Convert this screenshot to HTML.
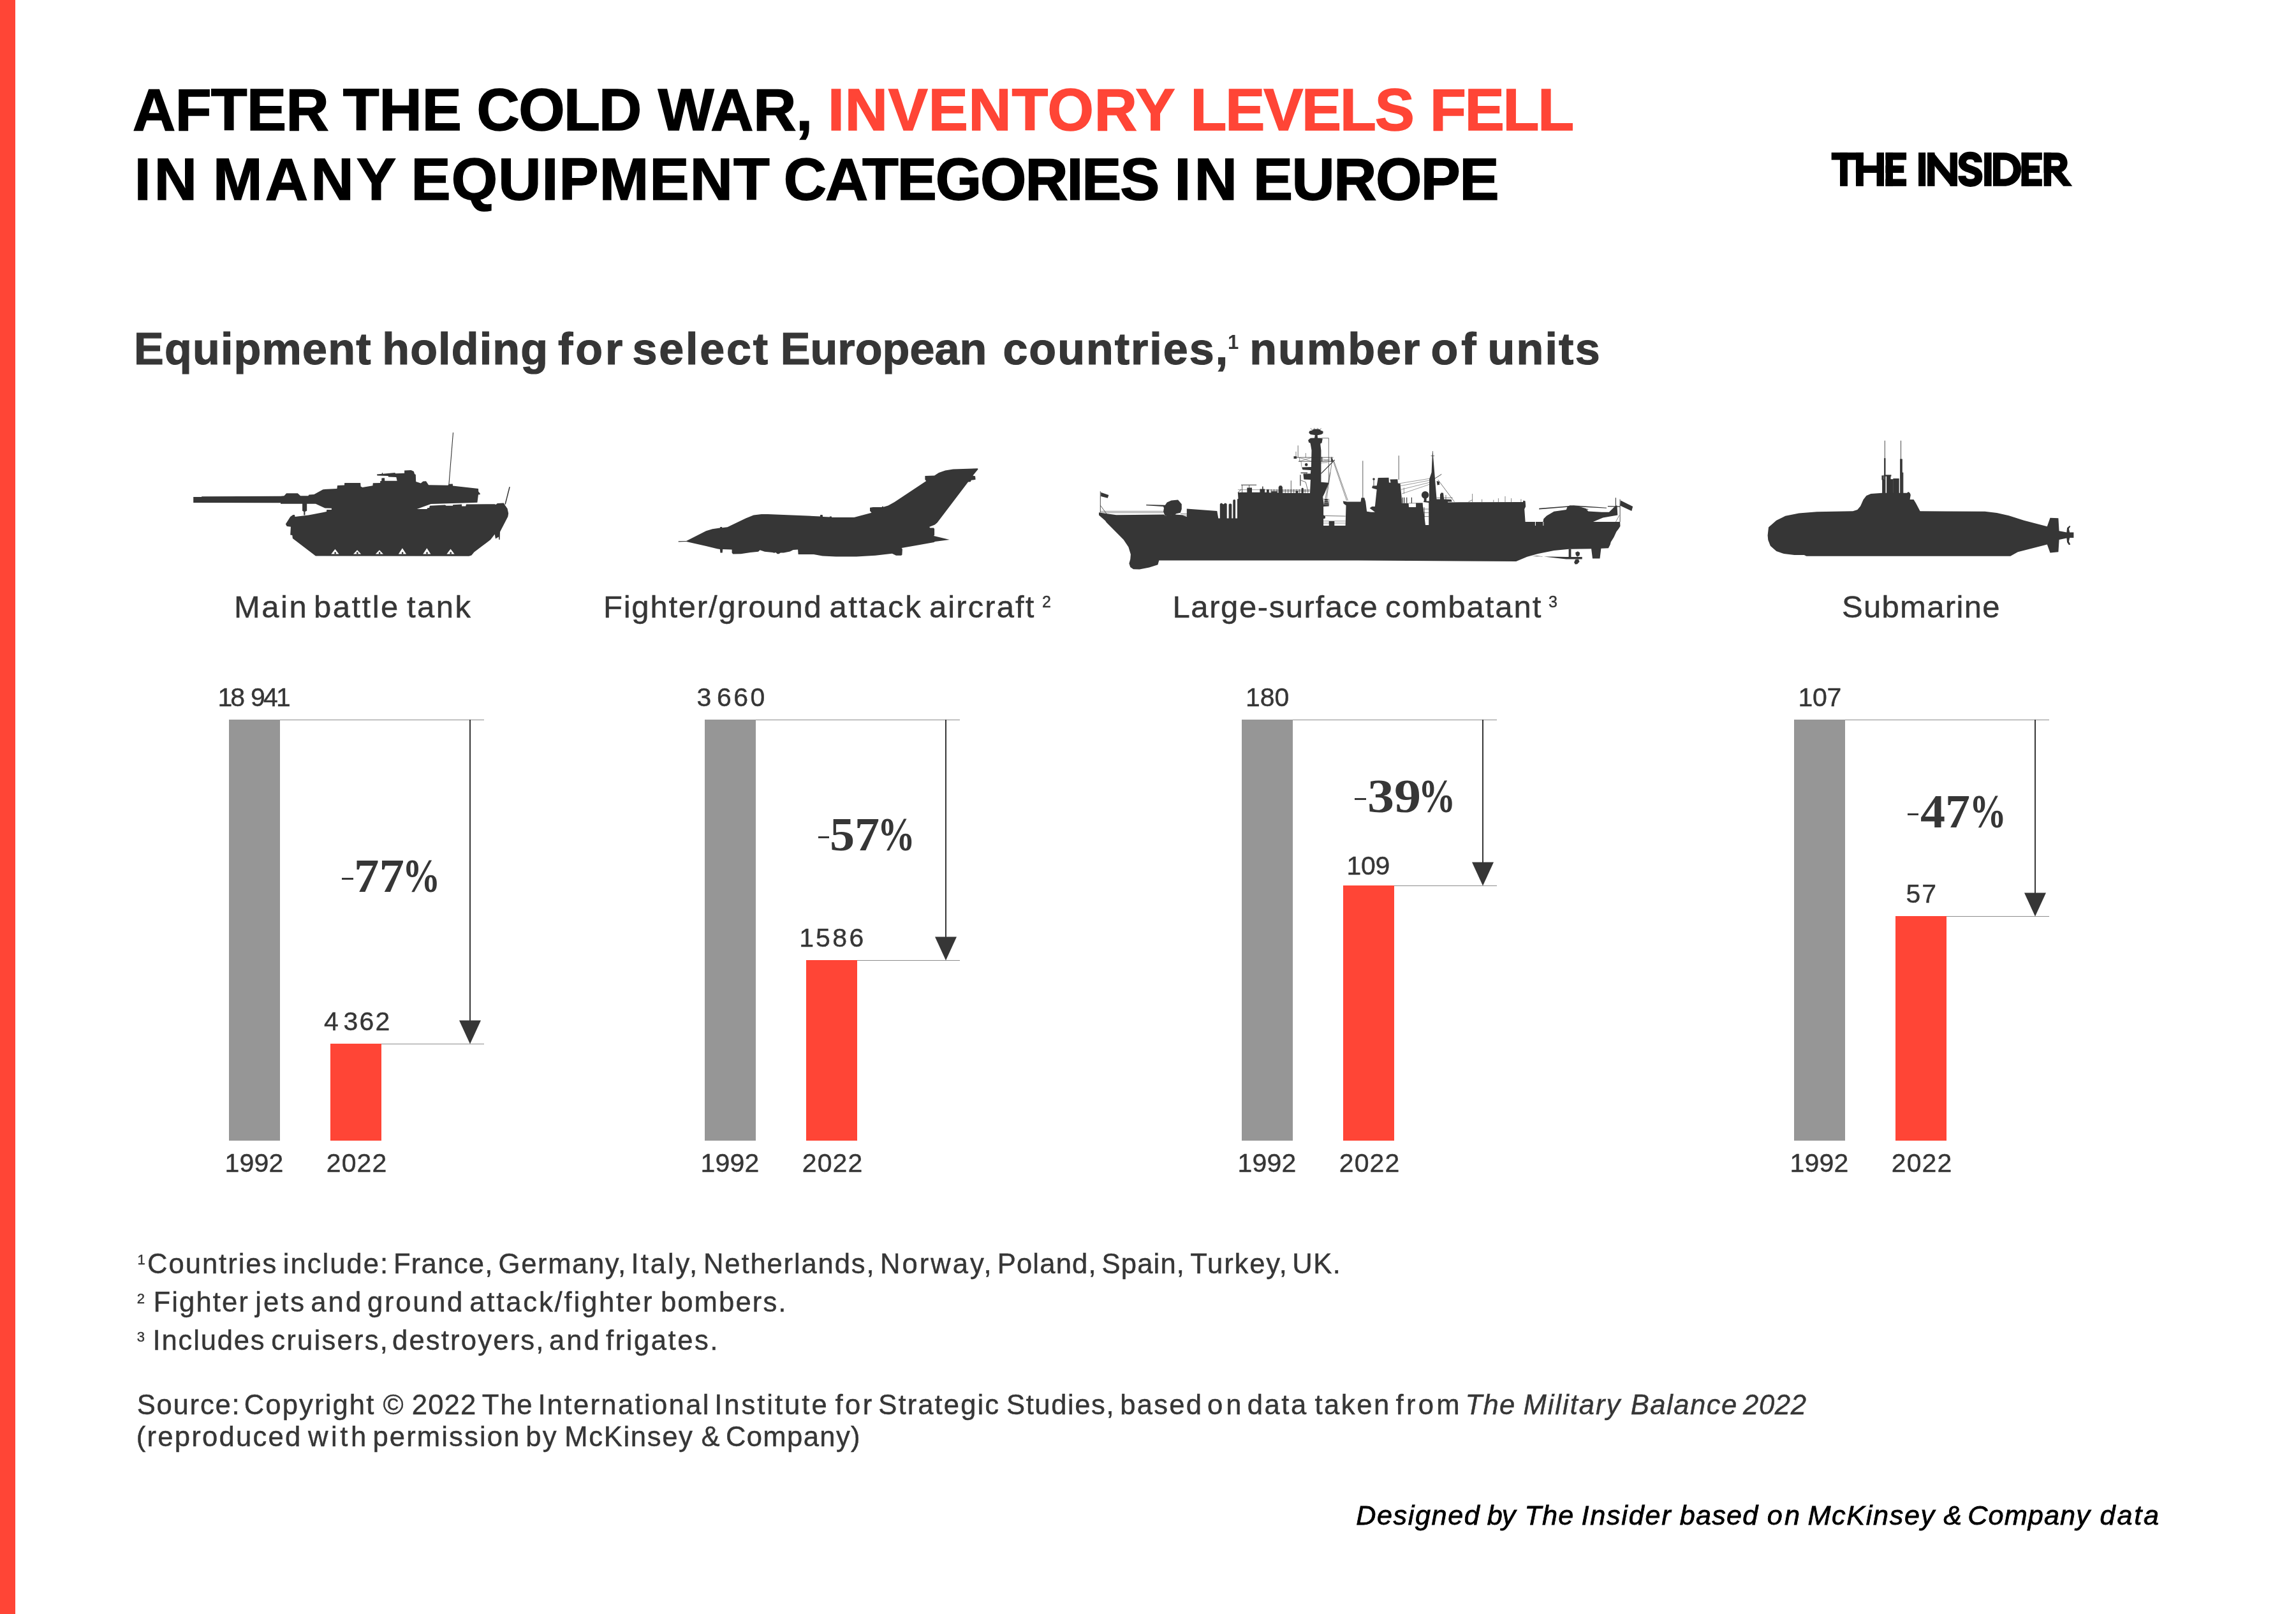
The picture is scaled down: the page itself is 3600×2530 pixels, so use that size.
<!DOCTYPE html>
<html><head><meta charset="utf-8"><title>After the Cold War, inventory levels fell</title>
<style>
html,body{margin:0;padding:0;background:#fff}
body{width:3600px;height:2530px;position:relative;overflow:hidden;font-family:"Liberation Sans",sans-serif}
#t{position:absolute;left:0;top:0;width:3600px;height:2530px;will-change:transform}
</style></head><body><div id="t">
<div style="position:absolute;left:0px;top:0px;width:24px;height:2530px;background:#ff4536"></div>
<div style="position:absolute;left:208.10px;top:126.28px;font-family:'Liberation Sans', sans-serif;font-size:93px;line-height:1;font-weight:bold;font-style:normal;color:#000;white-space:pre;letter-spacing:-0.625px;-webkit-text-stroke:1.5px #000;">AFTER</div>
<div style="position:absolute;left:537.70px;top:126.28px;font-family:'Liberation Sans', sans-serif;font-size:93px;line-height:1;font-weight:bold;font-style:normal;color:#000;white-space:pre;letter-spacing:0.1px;-webkit-text-stroke:1.5px #000;">THE</div>
<div style="position:absolute;left:747.60px;top:126.28px;font-family:'Liberation Sans', sans-serif;font-size:93px;line-height:1;font-weight:bold;font-style:normal;color:#000;white-space:pre;letter-spacing:-1.6px;-webkit-text-stroke:1.5px #000;">COLD</div>
<div style="position:absolute;left:1031.70px;top:126.28px;font-family:'Liberation Sans', sans-serif;font-size:93px;line-height:1;font-weight:bold;font-style:normal;color:#000;white-space:pre;letter-spacing:-0.133px;-webkit-text-stroke:1.5px #000;">WAR,</div>
<div style="position:absolute;left:1298.00px;top:126.28px;font-family:'Liberation Sans', sans-serif;font-size:93px;line-height:1;font-weight:bold;font-style:normal;color:#ff4536;white-space:pre;letter-spacing:0.875px;-webkit-text-stroke:1.5px #ff4536;">INVENTORY</div>
<div style="position:absolute;left:1866.50px;top:126.28px;font-family:'Liberation Sans', sans-serif;font-size:93px;line-height:1;font-weight:bold;font-style:normal;color:#ff4536;white-space:pre;letter-spacing:-2.1px;-webkit-text-stroke:1.5px #ff4536;">LEVELS</div>
<div style="position:absolute;left:2242.00px;top:126.28px;font-family:'Liberation Sans', sans-serif;font-size:93px;line-height:1;font-weight:bold;font-style:normal;color:#ff4536;white-space:pre;letter-spacing:-2.167px;-webkit-text-stroke:1.5px #ff4536;">FELL</div>
<div style="position:absolute;left:210.70px;top:235.28px;font-family:'Liberation Sans', sans-serif;font-size:93px;line-height:1;font-weight:bold;font-style:normal;color:#000;white-space:pre;letter-spacing:5.1px;-webkit-text-stroke:1.5px #000;">IN</div>
<div style="position:absolute;left:334.00px;top:235.28px;font-family:'Liberation Sans', sans-serif;font-size:93px;line-height:1;font-weight:bold;font-style:normal;color:#000;white-space:pre;letter-spacing:4.4px;-webkit-text-stroke:1.5px #000;">MANY</div>
<div style="position:absolute;left:644.50px;top:235.28px;font-family:'Liberation Sans', sans-serif;font-size:93px;line-height:1;font-weight:bold;font-style:normal;color:#000;white-space:pre;letter-spacing:1.188px;-webkit-text-stroke:1.5px #000;">EQUIPMENT</div>
<div style="position:absolute;left:1228.80px;top:235.28px;font-family:'Liberation Sans', sans-serif;font-size:93px;line-height:1;font-weight:bold;font-style:normal;color:#000;white-space:pre;letter-spacing:-2.056px;-webkit-text-stroke:1.5px #000;">CATEGORIES</div>
<div style="position:absolute;left:1841.40px;top:235.28px;font-family:'Liberation Sans', sans-serif;font-size:93px;line-height:1;font-weight:bold;font-style:normal;color:#000;white-space:pre;letter-spacing:5.4px;-webkit-text-stroke:1.5px #000;">IN</div>
<div style="position:absolute;left:1965.00px;top:235.28px;font-family:'Liberation Sans', sans-serif;font-size:93px;line-height:1;font-weight:bold;font-style:normal;color:#000;white-space:pre;letter-spacing:-1.46px;-webkit-text-stroke:1.5px #000;">EUROPE</div>
<svg style="position:absolute;left:2840px;top:210px" width="440" height="110" viewBox="0 0 2296 574">
<g fill="#000">
<rect x="165" y="152" width="262" height="60"/><rect x="235" y="152" width="62" height="275"/>
<rect x="365" y="152" width="62" height="275"/><rect x="535" y="152" width="60" height="275"/><rect x="365" y="258" width="230" height="60"/>
<rect x="608" y="152" width="60" height="275"/><rect x="608" y="152" width="170" height="60"/><rect x="608" y="258" width="150" height="60"/><rect x="608" y="368" width="170" height="59"/>
<rect x="877" y="152" width="58" height="275"/>
<rect x="950" y="152" width="60" height="275"/><rect x="1135" y="152" width="60" height="275"/>
<path d="M950 152 L1000 152 L1195 397 L1195 427 L1142 427 L950 187 Z"/>
<rect x="1415" y="152" width="60" height="275"/>
<path fill-rule="evenodd" d="M1487 152 L1575 152 C1660 152 1717 210 1717 290 C1717 370 1660 427 1575 427 L1487 427 Z M1547 212 L1547 368 L1575 368 C1625 368 1653 335 1653 290 C1653 245 1625 212 1575 212 Z"/>
<rect x="1720" y="152" width="60" height="275"/><rect x="1720" y="152" width="168" height="60"/><rect x="1720" y="258" width="148" height="60"/><rect x="1720" y="368" width="168" height="59"/>
<rect x="1903" y="152" width="60" height="275"/>
<path fill-rule="evenodd" d="M1903 152 L2010 152 C2062 152 2096 188 2096 236 C2096 284 2062 318 2010 318 L1903 318 Z M1963 212 L1963 262 L2008 262 C2026 262 2036 251 2036 237 C2036 223 2026 212 2008 212 Z"/>
<path d="M1968 312 L2040 300 L2136 427 L2062 427 Z"/>
</g>
<path d="M1366 232 C1366 194 1340 176 1300 176 C1262 176 1236 196 1236 232 C1236 268 1272 279 1300 288 C1340 300 1369 312 1369 348 C1369 385 1340 401 1302 401 C1262 401 1234 382 1233 342" fill="none" stroke="#000" stroke-width="63"/>
</svg>
<div style="position:absolute;left:210.00px;top:511.75px;font-family:'Liberation Sans', sans-serif;font-size:70px;line-height:1;font-weight:bold;font-style:normal;color:#363636;white-space:pre;letter-spacing:1.225px;-webkit-text-stroke:1.2px #363636;">Equipment</div>
<div style="position:absolute;left:599.20px;top:511.75px;font-family:'Liberation Sans', sans-serif;font-size:70px;line-height:1;font-weight:bold;font-style:normal;color:#363636;white-space:pre;letter-spacing:1.2px;-webkit-text-stroke:1.2px #363636;">holding</div>
<div style="position:absolute;left:875.00px;top:511.75px;font-family:'Liberation Sans', sans-serif;font-size:70px;line-height:1;font-weight:bold;font-style:normal;color:#363636;white-space:pre;letter-spacing:4px;-webkit-text-stroke:1.2px #363636;">for</div>
<div style="position:absolute;left:991.60px;top:511.75px;font-family:'Liberation Sans', sans-serif;font-size:70px;line-height:1;font-weight:bold;font-style:normal;color:#363636;white-space:pre;letter-spacing:2.82px;-webkit-text-stroke:1.2px #363636;">select</div>
<div style="position:absolute;left:1223.70px;top:511.75px;font-family:'Liberation Sans', sans-serif;font-size:70px;line-height:1;font-weight:bold;font-style:normal;color:#363636;white-space:pre;letter-spacing:0.1px;-webkit-text-stroke:1.2px #363636;">European</div>
<div style="position:absolute;left:1572.40px;top:511.75px;font-family:'Liberation Sans', sans-serif;font-size:70px;line-height:1;font-weight:bold;font-style:normal;color:#363636;white-space:pre;letter-spacing:2.033px;-webkit-text-stroke:1.2px #363636;">countries,</div>
<div style="position:absolute;left:1959.30px;top:511.75px;font-family:'Liberation Sans', sans-serif;font-size:70px;line-height:1;font-weight:bold;font-style:normal;color:#363636;white-space:pre;letter-spacing:2.06px;-webkit-text-stroke:1.2px #363636;">number</div>
<div style="position:absolute;left:2243.50px;top:511.75px;font-family:'Liberation Sans', sans-serif;font-size:70px;line-height:1;font-weight:bold;font-style:normal;color:#363636;white-space:pre;letter-spacing:5px;-webkit-text-stroke:1.2px #363636;">of</div>
<div style="position:absolute;left:2332.40px;top:511.75px;font-family:'Liberation Sans', sans-serif;font-size:70px;line-height:1;font-weight:bold;font-style:normal;color:#363636;white-space:pre;letter-spacing:2.25px;-webkit-text-stroke:1.2px #363636;">units</div>
<div style="position:absolute;left:1925.00px;top:521.26px;font-family:'Liberation Sans', sans-serif;font-size:31px;line-height:1;font-weight:bold;font-style:normal;color:#363636;white-space:pre;letter-spacing:0px;">1</div>
<svg style="position:absolute;left:0;top:0" width="3600" height="1020" viewBox="0 0 3600 1020">
<path d="M303.2 779 L315.9 779 L316.3 778.2 L440 777.8 L445.5 777.3 L449.1 773.3 L466.8 773.3 L471.1 777.3 L483.3 777.3 L484.5 775.4 L492.4 775.1 L506.5 767.2 L528.4 766 L529 761.1 L540 760.5 L540.2 757.1 L565.2 757 L565.6 762.4 L568.3 763.9 L584.4 761.2 L584.8 757.2 L596.1 757 L596.3 754.1 L598.2 753.9 L598.4 749.6 L603 749.3 L603.3 753.7 L622.6 753.7 L621.3 748 L609.1 747.6 L608.5 746 L591.5 745.4 L590.9 743.5 L598.8 742.7 L599 741.1 L600 741.1 L600.2 742.7 L608.5 742 L619.5 741.1 L619.8 742.3 L634.1 741.7 L634.1 737.4 L644.5 737.1 L648.8 739 L650 742.9 L651.8 743.9 L652.2 755.1 L659.8 757.6 L663.4 754.5 L668 754.3 L672 760.2 L702.4 760.7 L703.7 758.8 L709.8 758.5 L710 761.5 L750 766.1 L750.2 770.4 L753 774 L752.4 775.2 L750 775.2 L748.4 787.7 L726.1 788.6 L675.6 790 L653.7 797.9 L669.4 797.9 L670.2 796.2 L673.1 796 L673.9 792.7 L697.9 791.6 L699.6 792.7 L709.9 792.7 L710.3 791.3 L724 790.6 L724.2 793.5 L730.2 793.5 L731 790.5 L775.7 790.2 L777.4 791 L779.9 789.1 L789.8 788.6 L791.9 791.9 L795.6 797.2 L797.2 804.7 L796.4 809.7 L784 833.7 L783.6 846.1 L782.3 846.1 L781.9 841.5 L777 844.4 L775.7 837.4 L769.1 846.1 L755.9 856 L743.4 865.5 L739.3 870.5 L735.2 871.7 L492.4 871.5 L494.9 871.5 L458.9 844 L458.3 839.1 L455.2 838.5 L455.9 825.7 L449.8 824.9 L447.9 821.5 L455.2 809.9 L459.5 807.1 L462 807.1 L462.6 809.9 L483.9 807.4 L512 802 L512.2 798.9 L519.9 798.9 L519.9 796.8 L509.5 796.5 L494.9 789.8 L481.2 789.8 L481.2 800.7 L478.4 802 L478.4 807.4 L476.3 807.4 L476.3 802 L474.1 800.7 L474.1 789.8 L440 789.8 L440 788.3 L303.2 787.9 Z" fill="#363636"/>
<path d="M519.3 868.4 L525.4 860.7 L531.5 868.4 Z" fill="#fff"/>
<path d="M524.4 865.4 L526.8 865.4 L526.8 868.5 L524.4 868.5 Z" fill="#363636"/>
<path d="M554 868.4 L560.1 862.3 L566.2 868.4 Z" fill="#fff"/>
<path d="M559.1 865.4 L561.6 865.4 L561.6 868.5 L559.1 868.5 Z" fill="#363636"/>
<path d="M588.8 868.4 L594.9 862.3 L601 868.4 Z" fill="#fff"/>
<path d="M593.9 865.4 L596.3 865.4 L596.3 868.5 L593.9 868.5 Z" fill="#363636"/>
<path d="M624.8 868.4 L630.9 859.3 L637 868.4 Z" fill="#fff"/>
<path d="M629.9 865.4 L632.3 865.4 L632.3 868.5 L629.9 868.5 Z" fill="#363636"/>
<path d="M663.2 868.4 L669.3 859.3 L675.4 868.4 Z" fill="#fff"/>
<path d="M668.3 865.4 L670.7 865.4 L670.7 868.5 L668.3 868.5 Z" fill="#363636"/>
<path d="M700.4 868.4 L706.5 860.5 L712.6 868.4 Z" fill="#fff"/>
<path d="M705.5 865.4 L707.9 865.4 L707.9 868.5 L705.5 868.5 Z" fill="#363636"/>
<path d="M703.9 759.4 L710.5 678" stroke="#363636" stroke-width="1.1" fill="none"/>
<path d="M792.1 790.6 L799.1 763.3" stroke="#363636" stroke-width="1.5" fill="none"/>
<path d="M1063.7 848.3 L1076.1 847.9 L1107.1 832.2 L1117 829.2 L1128.9 827.5 L1129.4 826 L1131.9 826 L1132.4 827.2 L1140.6 826.3 L1169.2 812.4 L1181.6 807.6 L1194 805.9 L1203.9 805.9 L1285.8 809.4 L1286.3 806.9 L1289.6 806.9 L1290.1 809.9 L1300.7 810.6 L1301.2 809.6 L1303.7 809.6 L1304.2 810.9 L1339.2 811.1 L1366.5 803.7 L1364 800.7 L1364 795.7 L1369 795 L1382.7 795 L1383.2 793.7 L1384.7 793.7 L1385.1 794.7 L1392.6 792.5 L1402.5 787 L1452.2 754 L1450.4 751.8 L1450.4 746.1 L1465.1 745.6 L1472 741.1 L1482 737.4 L1494.4 735.6 L1532.9 734.2 L1533.6 735.6 L1525.4 745.6 L1529.1 746.6 L1529.6 751.8 L1522.9 752.8 L1521.7 755.3 L1518 755.5 L1469.6 819.3 L1465.8 822.5 L1457.1 826 L1458.4 827.5 L1464.1 827.5 L1465.1 829.2 L1465.1 838.7 L1464.1 839.9 L1488.9 845.9 L1465.8 849.1 L1464.6 850.1 L1442.2 854.1 L1413.7 859 L1414.9 861 L1414.4 869.7 L1413 870.7 L1405 870.7 L1398.8 867.7 L1372.7 870.7 L1342.9 872.4 L1310.7 872.4 L1289.6 871.4 L1275.9 869 L1251.6 869 L1251.1 861.5 L1243.6 862 L1238.7 864.5 L1228.7 866.5 L1223.8 866.5 L1221.3 868.2 L1218.8 868.2 L1216.3 866 L1213.9 866.7 L1211.4 866 L1199 864.7 L1191.5 862.3 L1189 864.7 L1176.6 866 L1161.7 868.2 L1149.3 868.5 L1147.6 866.5 L1147.6 861.5 L1133.2 861 L1132.7 866.5 L1129.4 866.5 L1128.9 861 L1124.5 860.3 L1107.1 856 L1076.1 849.1 L1063.7 849.6 Z" fill="#363636"/>
<path d="M1723 803.3 L1727.2 804.1 L1750.2 807.2 L1825 806.6 L1826.9 808.5 L1842.2 806.6 L1852.8 807.2 L1860.8 810.1 L1860.8 797.6 L1908.3 800.9 L1910.3 812.4 L1912.8 812.4 L1912.8 790.3 L1914.1 788.8 L1916 788.8 L1917.4 790.3 L1918.9 790.3 L1920.2 788.8 L1922.3 788.8 L1923.7 790.3 L1923.7 812.4 L1926.6 812.4 L1926.6 790.7 L1928.1 789.5 L1930 789.5 L1931.3 790.7 L1931.3 812.4 L1933.3 812.4 L1933.3 784.2 L1934.6 783 L1936.1 783 L1937.1 784.2 L1937.1 812.4 L1940 812.4 L1940 782.6 L1941.5 781.7 L1940.9 772.1 L1946.1 771.7 L1955.3 771.7 L1955.3 764.4 L1963 764.4 L1963 771.7 L1975.4 771.7 L1975.4 766.6 L1979.1 766.6 L1979.1 762.5 L1980.6 762.5 L1980.6 766.6 L1983.1 766.6 L1983.1 771.7 L1986 771.7 L1986 767.3 L1989.8 767.3 L1989.8 772.3 L2004.7 772.3 L2004.7 763.5 L2006.3 761.2 L2009.3 761.2 L2010.9 763.5 L2010.9 772.7 L2040.6 772.7 L2040.6 765.4 L2042.1 764.4 L2043.8 765.4 L2043.8 773.1 L2054 773.1 L2054.9 752 L2044.4 751.6 L2043.4 742.8 L2054.9 742.4 L2055.3 737 L2042.5 736.3 L2041.1 732.4 L2055.9 731.9 L2056.5 706 L2054.9 696.4 L2053 689.1 L2054.9 686.8 L2061.1 686.4 L2061.8 682 L2054.9 681.1 L2052.3 678.8 L2053 675.7 L2057.8 674.4 L2063.6 673.8 L2070.3 674.6 L2074.5 676.1 L2074.5 679.2 L2071.8 681.1 L2065.7 682.2 L2066.1 686.4 L2072.6 686.8 L2071.8 690.7 L2070.3 696.4 L2071.4 706 L2071.4 755.8 L2083.7 756.8 L2077 773.1 L2074.1 778.8 L2076 792.2 L2083.7 792.2 L2083.7 793.4 L2075.1 794.1 L2075.1 807.6 L2077.9 808.5 L2077.9 812.4 L2075.1 813.3 L2075.1 823.9 L2083.7 823.9 L2083.7 817.1 L2092.3 817.1 L2092.3 823.9 L2109.6 823.9 L2110.5 792.2 L2106.7 789.4 L2105.7 785.5 L2112.4 786.5 L2133.5 786.5 L2134.5 780.3 L2139.3 780.3 L2141.2 786.5 L2143.1 801.8 L2150 802.8 L2155.9 802.8 L2147.6 796.4 L2151.1 794.1 L2155.9 794.1 L2158.7 767.3 L2151.1 765 L2152 761.6 L2158.7 761.2 L2160.7 749.1 L2177.5 748.7 L2177.9 756.4 L2180.6 756.4 L2179.4 751.6 L2191.3 751.2 L2191.9 757.4 L2195.5 757.7 L2198 782.6 L2198.2 788.8 L2208.6 788.8 L2209 795.1 L2220.1 795.1 L2220.1 788.4 L2230.6 788.4 L2231.2 795.1 L2231.6 795.1 L2235 822.9 L2240.2 822.9 L2240.2 788 L2232 786.9 L2232.3 785.5 L2240.8 785.5 L2241.1 751 L2244.6 740.5 L2245.6 717.5 L2246.1 707 L2246.7 707 L2247.3 717.5 L2249.2 740.5 L2252.6 782.6 L2258 782.6 L2258 775 L2259.9 772.3 L2263 772.7 L2264.1 782.6 L2275.6 783 L2276.6 786.5 L2269.9 786.5 L2270.3 787.4 L2387.8 786.9 L2388.7 784.6 L2391.6 785.5 L2392.2 794.1 L2390.2 798 L2391.6 818.1 L2419.4 818.1 L2420.3 813.3 L2425.1 808.5 L2436.6 801.8 L2455.8 798.9 L2457.7 794.1 L2461.5 792.2 L2473 793.2 L2486.4 797 L2490.3 801.4 L2511.4 802.8 L2522.9 802.8 L2533.4 792.6 L2535.5 792.6 L2536.3 807.6 L2513.3 811.4 L2497.9 818.1 L2540.1 818.1 L2540.5 824.8 L2538.2 828.6 L2534.4 833.4 L2530.5 842.1 L2525.7 849.7 L2524.8 853.6 L2521.9 859.3 L2510.4 859.7 L2508.5 875.6 L2497 875.6 L2495.1 860.3 L2459.6 860.8 L2436.6 863.1 L2411.7 867.9 L2394.5 872.7 L2377.2 880 L2130 878.5 L1817.3 878.5 L1815.4 885.2 L1802 889.6 L1786.7 892.5 L1777.1 892.3 L1772.3 889 L1770.4 883.3 L1772.3 876.6 L1772.9 868.9 L1769.4 857.4 L1761.7 845.9 L1748.3 832.5 L1734.9 819.1 L1733 816.2 L1723 807.6 Z" fill="#363636"/>
<path d="M1725.3 770.2 L1725.3 803.3" stroke="#363636" stroke-width="0.9" fill="none"/>
<path d="M1726.1 771.7 L1738.4 775.9 L1736.8 780.7 L1726.1 777.9 Z" fill="#363636"/>
<path d="M1725.3 792.2 L1735.9 806.6" stroke="#363636" stroke-width="0.8" fill="none"/>
<path d="M1725.3 801.4 L1824 801.4" stroke="#363636" stroke-width="0.6" fill="none"/>
<path d="M1725.3 803.7 L1824 803.7" stroke="#363636" stroke-width="0.6" fill="none"/>
<path d="M1850.9 805.3 L1861.4 805.6" stroke="#363636" stroke-width="0.6" fill="none"/>
<path d="M1852.8 807.6 L1861.4 807.9" stroke="#363636" stroke-width="0.5" fill="none"/>
<path d="M1797.2 790.9 L1826.9 791.8 L1829.8 787.4 L1836.5 784.6 L1847 783.6 L1852.8 790.3 L1852.8 798 L1850.9 803.7 L1844.1 805.3 L1842.2 807.2 L1826.9 808.7 L1824 802.2 L1825 796.4 L1824 794.1 L1797.2 792.2 Z" fill="#363636"/>
<path d="M1946.1 760.2 L1970.1 760.2" stroke="#363636" stroke-width="1" fill="none"/>
<path d="M1947.6 760.2 L1947.6 772.1" stroke="#363636" stroke-width="0.8" fill="none"/>
<path d="M1958.7 760.2 L1958.7 772.1" stroke="#363636" stroke-width="0.8" fill="none"/>
<path d="M1940.9 772.1 L1946.1 767.3" stroke="#363636" stroke-width="0.8" fill="none"/>
<path d="M2024.3 753.3 L2024.3 773.1" stroke="#363636" stroke-width="0.8" fill="none"/>
<path d="M1940.9 767.7 L2054 767.7" stroke="#363636" stroke-width="0.5" fill="none"/>
<path d="M1991.7 769.6 L2054 769.6" stroke="#363636" stroke-width="0.5" fill="none"/>
<path d="M2029.1 717.1 L2090.4 717.1" stroke="#363636" stroke-width="0.8" fill="none"/>
<path d="M2035.8 723.2 L2090.4 723.2" stroke="#363636" stroke-width="0.8" fill="none"/>
<path d="M2037.7 717.1 L2037.7 723.2" stroke="#363636" stroke-width="0.6" fill="none"/>
<path d="M2035.2 698.3 L2035.2 717.1" stroke="#363636" stroke-width="0.7" fill="none"/>
<path d="M2032 707.9 L2032 717.1" stroke="#363636" stroke-width="0.6" fill="none"/>
<path d="M2047.3 710.2 L2047.3 717.1" stroke="#363636" stroke-width="0.6" fill="none"/>
<path d="M2028.5 715.2 L2033.1 715.2 L2033.1 719 L2028.5 719 Z" fill="#363636"/>
<circle cx="2048.2" cy="728.4" r="2.3" fill="#363636"/>
<path d="M2038.9 744.3 L2038.9 761.6" stroke="#363636" stroke-width="1.2" fill="none"/>
<path d="M2039.6 752.9 L2047.3 755.8" stroke="#363636" stroke-width="0.7" fill="none"/>
<path d="M2047.3 755.8 L2050.2 767.3" stroke="#363636" stroke-width="0.7" fill="none"/>
<path d="M2072.2 686.8 L2083.3 686.8" stroke="#363636" stroke-width="0.7" fill="none"/>
<path d="M2083.3 686.8 L2083.3 755.8" stroke="#363636" stroke-width="0.7" fill="none"/>
<path d="M2071.4 742.4 L2092.7 720.9" stroke="#363636" stroke-width="1.3" fill="none"/>
<path d="M2087.1 715.6 L2090.4 722.3 L2087.1 724.2 Z" fill="#363636"/>
<path d="M2088.5 717.5 L2111.5 784.6" stroke="#363636" stroke-width="0.6" fill="none"/>
<path d="M2091.4 722.3 L2113.4 784.6" stroke="#363636" stroke-width="0.6" fill="none"/>
<path d="M2088.5 723.2 L2079.9 782.6" stroke="#363636" stroke-width="0.6" fill="none"/>
<path d="M2085.6 740.5 L2077.9 782.6" stroke="#363636" stroke-width="0.6" fill="none"/>
<path d="M2075.1 782.6 L2083.7 782.6" stroke="#363636" stroke-width="0.6" fill="none"/>
<path d="M2083.7 782.6 L2083.7 792.2" stroke="#363636" stroke-width="0.6" fill="none"/>
<path d="M2077.9 808.5 L2109.6 809.1" stroke="#363636" stroke-width="0.7" fill="none"/>
<path d="M2075.1 816.8 L2109.6 816.8" stroke="#363636" stroke-width="0.5" fill="none"/>
<path d="M2075.1 820 L2109.6 820" stroke="#363636" stroke-width="0.5" fill="none"/>
<path d="M2136.8 722.3 L2136.8 780.7" stroke="#363636" stroke-width="0.8" fill="none"/>
<path d="M2054.8 671.1 L2058.3 675" stroke="#363636" stroke-width="0.6" fill="none"/>
<path d="M2060.6 670.8 L2060.2 674.2" stroke="#363636" stroke-width="0.6" fill="none"/>
<path d="M2065.9 670.8 L2066.9 674.2" stroke="#363636" stroke-width="0.6" fill="none"/>
<path d="M2071.6 671.1 L2068.2 675" stroke="#363636" stroke-width="0.6" fill="none"/>
<path d="M2058 673.5 L2061.6 672.4 L2066.9 672.4 L2070.6 673.7 L2070.1 675.3 L2058.5 675.3 Z" fill="#363636"/>
<path d="M2051.1 690 L2053.7 687.6 L2056.4 687.6 L2056.4 694.8 L2052.2 693.7 Z" fill="#363636"/>
<path d="M2070.1 687.6 L2073.8 687.6 L2072.4 694.8 L2070.1 694.8 Z" fill="#363636"/>
<path d="M1993.2 766.9 L1993.2 772.9" stroke="#363636" stroke-width="0.7" fill="none"/>
<path d="M1997.6 766.9 L1997.6 772.9" stroke="#363636" stroke-width="0.7" fill="none"/>
<path d="M2002 766.9 L2002 772.9" stroke="#363636" stroke-width="0.7" fill="none"/>
<path d="M2006.5 766.9 L2006.5 772.9" stroke="#363636" stroke-width="0.7" fill="none"/>
<path d="M2010.9 766.9 L2010.9 772.9" stroke="#363636" stroke-width="0.7" fill="none"/>
<path d="M2015.3 766.9 L2015.3 772.9" stroke="#363636" stroke-width="0.7" fill="none"/>
<path d="M2019.7 766.9 L2019.7 772.9" stroke="#363636" stroke-width="0.7" fill="none"/>
<path d="M2024.2 766.9 L2024.2 772.9" stroke="#363636" stroke-width="0.7" fill="none"/>
<path d="M2028.6 766.9 L2028.6 772.9" stroke="#363636" stroke-width="0.7" fill="none"/>
<path d="M2033 766.9 L2033 772.9" stroke="#363636" stroke-width="0.7" fill="none"/>
<path d="M2037.4 766.9 L2037.4 772.9" stroke="#363636" stroke-width="0.7" fill="none"/>
<path d="M2041.8 766.9 L2041.8 772.9" stroke="#363636" stroke-width="0.7" fill="none"/>
<path d="M2046.3 766.9 L2046.3 772.9" stroke="#363636" stroke-width="0.7" fill="none"/>
<path d="M2050.7 766.9 L2050.7 772.9" stroke="#363636" stroke-width="0.7" fill="none"/>
<path d="M1993.2 769.8 L2053.2 769.8" stroke="#363636" stroke-width="0.5" fill="none"/>
<path d="M1993.2 770.4 L2002.7 770.4 L2002.7 772.9 L1993.2 772.9 Z" fill="#363636"/>
<path d="M2031.6 769.5 L2035.3 769.5 L2035.3 773.2 L2031.6 773.2 Z" fill="#363636"/>
<path d="M2037.4 717.4 L2056.4 723.2" stroke="#363636" stroke-width="0.5" fill="none"/>
<path d="M2037.4 723.2 L2056.4 717.4" stroke="#363636" stroke-width="0.5" fill="none"/>
<path d="M2071.1 719 L2088 723.2" stroke="#363636" stroke-width="0.5" fill="none"/>
<path d="M2071.1 723.2 L2088 719" stroke="#363636" stroke-width="0.5" fill="none"/>
<path d="M2040.1 723.2 L2040.8 731.6" stroke="#363636" stroke-width="0.5" fill="none"/>
<path d="M2071.1 725.8 L2081.7 724.8" stroke="#363636" stroke-width="0.5" fill="none"/>
<path d="M2072.7 716.3 L2072.7 723.2" stroke="#363636" stroke-width="1.2" fill="none"/>
<path d="M2039.5 740.6 L2050.1 740.6 L2050.1 741.9 L2039.5 741.9 Z" fill="#363636"/>
<path d="M2045.8 742.1 L2045.8 749.5" stroke="#363636" stroke-width="0.6" fill="none"/>
<path d="M2048.5 742.1 L2048.5 749.5" stroke="#363636" stroke-width="0.6" fill="none"/>
<path d="M2051.1 742.1 L2051.1 749.5" stroke="#363636" stroke-width="0.6" fill="none"/>
<path d="M2053.7 742.1 L2053.7 749.5" stroke="#363636" stroke-width="0.6" fill="none"/>
<path d="M2045.3 745.8 L2056.4 745.8" stroke="#363636" stroke-width="0.5" fill="none"/>
<path d="M2076.9 782.2 L2081.7 782.2 L2083.5 792.2 L2075.9 792.9 Z" fill="#363636"/>
<path d="M2076.6 784.8 L2082.7 784.8" stroke="#fff" stroke-width="0.5" fill="none"/>
<path d="M2076.6 787.4 L2082.7 787.4" stroke="#fff" stroke-width="0.5" fill="none"/>
<path d="M2076.6 790.1 L2082.7 790.1" stroke="#fff" stroke-width="0.5" fill="none"/>
<path d="M2193.2 714.2 L2193.2 752" stroke="#363636" stroke-width="0.8" fill="none"/>
<path d="M2154 751.6 L2154 761.6" stroke="#363636" stroke-width="0.9" fill="none"/>
<circle cx="2154" cy="751" r="1.8" fill="#363636"/>
<circle cx="2234.6" cy="775.9" r="5.8" fill="#363636"/>
<path d="M2232.7 780.7 L2236.6 780.7 L2236.6 786.5 L2232.7 786.5 Z" fill="#363636"/>
<path d="M2231.6 798 L2240.2 798" stroke="#363636" stroke-width="0.6" fill="none"/>
<path d="M2231.6 803.7 L2240.2 803.7" stroke="#363636" stroke-width="0.6" fill="none"/>
<path d="M2231.6 809.5 L2240.2 809.5" stroke="#363636" stroke-width="0.6" fill="none"/>
<path d="M2233.5 795.1 L2233.5 811.4" stroke="#363636" stroke-width="0.6" fill="none"/>
<path d="M2243.6 714.6 L2249.2 714.6" stroke="#363636" stroke-width="0.7" fill="none"/>
<path d="M2195.2 757.7 L2242.1 750.1" stroke="#363636" stroke-width="0.5" fill="none"/>
<path d="M2196.1 761.6 L2242.1 752.9" stroke="#363636" stroke-width="0.5" fill="none"/>
<path d="M2197.1 767.3 L2243.1 755.8" stroke="#363636" stroke-width="0.5" fill="none"/>
<path d="M2198 774 L2243.1 758.7" stroke="#363636" stroke-width="0.5" fill="none"/>
<path d="M2201.3 764.4 L2201.3 774" stroke="#363636" stroke-width="0.5" fill="none"/>
<path d="M2249.8 750.1 L2260.3 743.4" stroke="#363636" stroke-width="0.9" fill="none"/>
<path d="M2254.6 752 L2280.4 786.5" stroke="#363636" stroke-width="0.7" fill="none"/>
<path d="M2252.6 753.9 L2256.9 754.9 L2257.2 759.7 L2253.6 760.6 Z" fill="#363636"/>
<path d="M2252.6 780.3 L2277.6 780.3" stroke="#363636" stroke-width="0.6" fill="none"/>
<path d="M2267 775.9 L2267 783.6" stroke="#363636" stroke-width="0.7" fill="none"/>
<path d="M2199.4 779.8 L2199.4 788.8" stroke="#363636" stroke-width="1.2" fill="none"/>
<path d="M2201.9 779.8 L2201.9 788.8" stroke="#363636" stroke-width="1.2" fill="none"/>
<path d="M2205.7 779.8 L2205.7 788.8" stroke="#363636" stroke-width="1.2" fill="none"/>
<path d="M2213.4 779.8 L2213.4 788.8" stroke="#363636" stroke-width="1.2" fill="none"/>
<path d="M2209 788.8 L2230.6 788.8" stroke="#363636" stroke-width="0.6" fill="none"/>
<path d="M2308.6 774 L2308.6 786.9" stroke="#363636" stroke-width="0.6" fill="none"/>
<path d="M2323.6 782.6 L2323.6 786.9" stroke="#363636" stroke-width="0.6" fill="none"/>
<path d="M2341.8 783.6 L2341.8 786.9" stroke="#363636" stroke-width="0.6" fill="none"/>
<path d="M2349.4 781.1 L2349.4 786.9" stroke="#363636" stroke-width="0.6" fill="none"/>
<path d="M2360 777.9 L2360 786.9" stroke="#363636" stroke-width="0.6" fill="none"/>
<path d="M2369.5 781.1 L2369.5 786.9" stroke="#363636" stroke-width="0.6" fill="none"/>
<path d="M2384.9 782.3 L2384.9 786.9" stroke="#363636" stroke-width="0.6" fill="none"/>
<path d="M2302.5 786.5 L2308.6 783.6" stroke="#363636" stroke-width="0.6" fill="none"/>
<path d="M2406.9 818.1 L2407.9 818.1 L2407.9 823.9 L2406.9 823.9 Z" fill="#fff"/>
<path d="M2419.4 818.1 L2420.3 818.1 L2420.3 823.9 L2419.4 823.9 Z" fill="#fff"/>
<path d="M2413.2 796.8 L2455.8 793.4 L2467.3 792.2 L2494.1 794.1 L2519 795.7 L2519 796.8 L2490.3 795.3 L2467.3 794.1 L2455.8 794.9 L2413.2 798.4 Z" fill="#363636"/>
<path d="M2473 796.4 L2490.3 798.4" stroke="#363636" stroke-width="1" fill="none"/>
<path d="M2520.9 793.6 L2540.1 794.1" stroke="#363636" stroke-width="1.3" fill="none"/>
<path d="M2533.4 780.3 L2533.4 794.1" stroke="#363636" stroke-width="1.1" fill="none"/>
<path d="M2540.1 782.6 L2540.1 818.1" stroke="#363636" stroke-width="0.9" fill="none"/>
<path d="M2541.1 784.6 L2560.2 794.1 L2558.3 801 L2540.1 792.6 Z" fill="#363636"/>
<path d="M2533.4 818.1 L2539.1 807.6" stroke="#363636" stroke-width="0.6" fill="none"/>
<path d="M2402.1 872 L2455.8 873.1 L2480.7 873.1 L2480.7 876.6 L2455.8 876.6 L2409.8 871.2 Z" fill="#363636"/>
<path d="M2459.6 860.5 L2463.4 860.5 L2463.4 873.5 L2459.6 873.5 Z" fill="#363636"/>
<path d="M2470.2 866 L2474 864.3 L2477.2 866.6 L2476.5 870.8 L2473 872.7 L2470.7 869.8 Z" fill="#363636"/>
<path d="M2470.2 876.9 L2474.9 876.6 L2476.5 880.4 L2473 884.2 L2469.6 884.6 L2468.2 881.3 Z" fill="#363636"/>
<path d="M2771.6 839.3 L2773 826.4 L2785.3 815.8 L2799.4 808.8 L2820.6 804.5 L2848.8 802.2 L2905.2 801.2 L2912.3 798.9 L2917 793.5 L2921.7 782.9 L2926.4 777 L2933.4 774 L2951.1 772.8 L2984 772.8 L2989.9 772.8 L2992.2 771.1 L2994.6 772.8 L2995.8 775.8 L2994.6 782.9 L3000.5 782.9 L3004 788.8 L3010.6 801.2 L3112.2 801.7 L3131 804.1 L3149.8 808.3 L3173.3 815.8 L3209.8 825.2 L3214.5 811.8 L3227.4 812.3 L3228.6 832.3 L3240.4 834.6 L3241.1 827.6 L3245.1 824.1 L3246.3 825.2 L3243.9 828.8 L3245.1 834.6 L3251.4 834.6 L3251.4 842.9 L3245.1 842.9 L3243.9 848.7 L3246.3 853.4 L3243.9 854.2 L3241.1 849.9 L3240.4 843.6 L3228.6 845.9 L3227.4 865.2 L3214.5 866.4 L3209.8 853.4 L3163.9 865.2 L3152.2 871.8 L2832.3 871.8 L2828.8 869.9 L2813.5 869.9 L2797 868 L2785.3 864 L2775.9 855.8 L2772.3 846.4 Z" fill="#363636"/>
<path d="M2951.1 751.1 L2956.5 751.1 L2956.5 773.5 L2951.1 773.5 Z" fill="#363636"/>
<path d="M2950.4 745.3 L2953.7 745.3 L2953.7 752.3 L2950.4 752.3 Z" fill="#363636"/>
<path d="M2958.1 745.7 L2964.5 745.7 L2964.5 773.5 L2958.1 773.5 Z" fill="#363636"/>
<path d="M2953.7 744.3 L2965.4 744.3 L2965.4 746.7 L2953.7 746.7 Z" fill="#363636"/>
<path d="M2968.3 750 L2977.7 750 L2977.7 773.5 L2968.3 773.5 Z" fill="#363636"/>
<path d="M2979.1 719.4 L2982.8 719.4 L2982.8 773.5 L2979.1 773.5 Z" fill="#363636"/>
<path d="M2982.4 740.6 L2984.3 740.6 L2984.3 773.5 L2982.4 773.5 Z" fill="#363636"/>
<path d="M2954.1 718.2 L2956.5 718.2 L2956.5 751.1 L2954.1 751.1 Z" fill="#363636"/>
<path d="M2962.8 751.1 L2968.7 751.1 L2968.7 773.5 L2962.8 773.5 Z" fill="#363636"/>
<path d="M2955.3 690.7 L2955.3 719.4" stroke="#363636" stroke-width="0.9" fill="none"/>
<path d="M2980.5 690.7 L2980.5 720.6" stroke="#363636" stroke-width="0.9" fill="none"/>
</svg>
<div style="position:absolute;left:367.00px;top:927.02px;font-family:'Liberation Sans', sans-serif;font-size:49px;line-height:1;font-weight:normal;font-style:normal;color:#363636;white-space:pre;letter-spacing:2.5px;-webkit-text-stroke:0.45px #363636;">Main</div>
<div style="position:absolute;left:492.00px;top:927.02px;font-family:'Liberation Sans', sans-serif;font-size:49px;line-height:1;font-weight:normal;font-style:normal;color:#363636;white-space:pre;letter-spacing:2.5px;-webkit-text-stroke:0.45px #363636;">battle</div>
<div style="position:absolute;left:638.00px;top:927.02px;font-family:'Liberation Sans', sans-serif;font-size:49px;line-height:1;font-weight:normal;font-style:normal;color:#363636;white-space:pre;letter-spacing:2.5px;-webkit-text-stroke:0.45px #363636;">tank</div>
<div style="position:absolute;left:946.00px;top:927.02px;font-family:'Liberation Sans', sans-serif;font-size:49px;line-height:1;font-weight:normal;font-style:normal;color:#363636;white-space:pre;letter-spacing:1.769px;-webkit-text-stroke:0.45px #363636;">Fighter/ground</div>
<div style="position:absolute;left:1300.50px;top:927.02px;font-family:'Liberation Sans', sans-serif;font-size:49px;line-height:1;font-weight:normal;font-style:normal;color:#363636;white-space:pre;letter-spacing:2.5px;-webkit-text-stroke:0.45px #363636;">attack</div>
<div style="position:absolute;left:1457.00px;top:927.02px;font-family:'Liberation Sans', sans-serif;font-size:49px;line-height:1;font-weight:normal;font-style:normal;color:#363636;white-space:pre;letter-spacing:2.071px;-webkit-text-stroke:0.45px #363636;">aircraft</div>
<div style="position:absolute;left:1838.50px;top:927.02px;font-family:'Liberation Sans', sans-serif;font-size:49px;line-height:1;font-weight:normal;font-style:normal;color:#363636;white-space:pre;letter-spacing:1.583px;-webkit-text-stroke:0.45px #363636;">Large-surface</div>
<div style="position:absolute;left:2172.00px;top:927.02px;font-family:'Liberation Sans', sans-serif;font-size:49px;line-height:1;font-weight:normal;font-style:normal;color:#363636;white-space:pre;letter-spacing:1.938px;-webkit-text-stroke:0.45px #363636;">combatant</div>
<div style="position:absolute;left:2888.00px;top:927.02px;font-family:'Liberation Sans', sans-serif;font-size:49px;line-height:1;font-weight:normal;font-style:normal;color:#363636;white-space:pre;letter-spacing:1.312px;-webkit-text-stroke:0.45px #363636;">Submarine</div>
<div style="position:absolute;left:1634.00px;top:931.34px;font-family:'Liberation Sans', sans-serif;font-size:25px;line-height:1;font-weight:normal;font-style:normal;color:#363636;white-space:pre;letter-spacing:0px;-webkit-text-stroke:0.45px #363636;">2</div>
<div style="position:absolute;left:2428.00px;top:931.34px;font-family:'Liberation Sans', sans-serif;font-size:25px;line-height:1;font-weight:normal;font-style:normal;color:#363636;white-space:pre;letter-spacing:0px;-webkit-text-stroke:0.45px #363636;">3</div>
<div style="position:absolute;left:359px;top:1128px;width:80px;height:660px;background:#969696"></div>
<div style="position:absolute;left:518px;top:1636px;width:80px;height:152px;background:#ff4536"></div>
<div style="position:absolute;left:439px;top:1127.5px;width:320px;height:1.2px;background:#8c8c8c"></div>
<div style="position:absolute;left:598px;top:1635.5px;width:161px;height:1.2px;background:#8c8c8c"></div>
<div style="position:absolute;left:735.5px;top:1128px;width:2px;height:478px;background:#363636"></div>
<svg style="position:absolute;left:716.5px;top:1598.5px" width="40" height="40" viewBox="0 0 40 40"><path d="M3 0.5 L37 0.5 L20 37.5 Z" fill="#363636"/></svg>
<div style="position:absolute;left:341.50px;top:1073.09px;font-family:'Liberation Sans', sans-serif;font-size:41px;line-height:1;font-weight:normal;font-style:normal;color:#363636;white-space:pre;letter-spacing:-3px;-webkit-text-stroke:0.45px #363636;">18</div>
<div style="position:absolute;left:393.00px;top:1073.09px;font-family:'Liberation Sans', sans-serif;font-size:41px;line-height:1;font-weight:normal;font-style:normal;color:#363636;white-space:pre;letter-spacing:-2.75px;-webkit-text-stroke:0.45px #363636;">941</div>
<div style="position:absolute;left:508.00px;top:1581.09px;font-family:'Liberation Sans', sans-serif;font-size:41px;line-height:1;font-weight:normal;font-style:normal;color:#363636;white-space:pre;letter-spacing:0px;-webkit-text-stroke:0.45px #363636;">4</div>
<div style="position:absolute;left:538.50px;top:1581.09px;font-family:'Liberation Sans', sans-serif;font-size:41px;line-height:1;font-weight:normal;font-style:normal;color:#363636;white-space:pre;letter-spacing:2.25px;-webkit-text-stroke:0.45px #363636;">362</div>
<div style="position:absolute;left:352.50px;top:1802.79px;font-family:'Liberation Sans', sans-serif;font-size:41px;line-height:1;font-weight:normal;font-style:normal;color:#363636;white-space:pre;letter-spacing:0.167px;-webkit-text-stroke:0.45px #363636;">1992</div>
<div style="position:absolute;left:511.75px;top:1802.79px;font-family:'Liberation Sans', sans-serif;font-size:41px;line-height:1;font-weight:normal;font-style:normal;color:#363636;white-space:pre;letter-spacing:1.083px;-webkit-text-stroke:0.45px #363636;">2022</div>
<div style="position:absolute;left:536.25px;top:1375.5px;width:17.5px;height:3.2px;background:#363636"></div>
<div style="position:absolute;left:554.55px;top:1334.69px;font-family:'Liberation Serif', serif;font-size:75px;line-height:1;font-weight:bold;font-style:normal;color:#363636;white-space:pre;transform:scaleX(1.0507);transform-origin:0 0;">77</div>
<div style="position:absolute;left:631.17px;top:1334.69px;font-family:'Liberation Serif', serif;font-size:75px;line-height:1;font-weight:bold;font-style:normal;color:#363636;white-space:pre;transform:scaleX(0.7917);transform-origin:0 0;">%</div>
<div style="position:absolute;left:1105px;top:1128px;width:80px;height:660px;background:#969696"></div>
<div style="position:absolute;left:1264px;top:1505px;width:80px;height:283px;background:#ff4536"></div>
<div style="position:absolute;left:1185px;top:1127.5px;width:320px;height:1.2px;background:#8c8c8c"></div>
<div style="position:absolute;left:1344px;top:1504.5px;width:161px;height:1.2px;background:#8c8c8c"></div>
<div style="position:absolute;left:1481.5px;top:1128px;width:2px;height:347px;background:#363636"></div>
<svg style="position:absolute;left:1462.5px;top:1467.5px" width="40" height="40" viewBox="0 0 40 40"><path d="M3 0.5 L37 0.5 L20 37.5 Z" fill="#363636"/></svg>
<div style="position:absolute;left:1092.50px;top:1073.09px;font-family:'Liberation Sans', sans-serif;font-size:41px;line-height:1;font-weight:normal;font-style:normal;color:#363636;white-space:pre;letter-spacing:0px;-webkit-text-stroke:0.45px #363636;">3</div>
<div style="position:absolute;left:1124.00px;top:1073.09px;font-family:'Liberation Sans', sans-serif;font-size:41px;line-height:1;font-weight:normal;font-style:normal;color:#363636;white-space:pre;letter-spacing:3.5px;-webkit-text-stroke:0.45px #363636;">660</div>
<div style="position:absolute;left:1253.25px;top:1450.09px;font-family:'Liberation Sans', sans-serif;font-size:41px;line-height:1;font-weight:normal;font-style:normal;color:#363636;white-space:pre;letter-spacing:0px;-webkit-text-stroke:0.45px #363636;">1</div>
<div style="position:absolute;left:1279.00px;top:1450.09px;font-family:'Liberation Sans', sans-serif;font-size:41px;line-height:1;font-weight:normal;font-style:normal;color:#363636;white-space:pre;letter-spacing:3.5px;-webkit-text-stroke:0.45px #363636;">586</div>
<div style="position:absolute;left:1098.50px;top:1802.79px;font-family:'Liberation Sans', sans-serif;font-size:41px;line-height:1;font-weight:normal;font-style:normal;color:#363636;white-space:pre;letter-spacing:0.167px;-webkit-text-stroke:0.45px #363636;">1992</div>
<div style="position:absolute;left:1257.75px;top:1802.79px;font-family:'Liberation Sans', sans-serif;font-size:41px;line-height:1;font-weight:normal;font-style:normal;color:#363636;white-space:pre;letter-spacing:1.083px;-webkit-text-stroke:0.45px #363636;">2022</div>
<div style="position:absolute;left:1282.5px;top:1310.5px;width:17.5px;height:3.2px;background:#363636"></div>
<div style="position:absolute;left:1301.37px;top:1269.69px;font-family:'Liberation Serif', serif;font-size:75px;line-height:1;font-weight:bold;font-style:normal;color:#363636;white-space:pre;transform:scaleX(1.0429);transform-origin:0 0;">57</div>
<div style="position:absolute;left:1376.23px;top:1269.69px;font-family:'Liberation Serif', serif;font-size:75px;line-height:1;font-weight:bold;font-style:normal;color:#363636;white-space:pre;transform:scaleX(0.7833);transform-origin:0 0;">%</div>
<div style="position:absolute;left:1947px;top:1128px;width:80px;height:660px;background:#969696"></div>
<div style="position:absolute;left:2106px;top:1388px;width:80px;height:400px;background:#ff4536"></div>
<div style="position:absolute;left:2027px;top:1127.5px;width:320px;height:1.2px;background:#8c8c8c"></div>
<div style="position:absolute;left:2186px;top:1387.5px;width:161px;height:1.2px;background:#8c8c8c"></div>
<div style="position:absolute;left:2323.5px;top:1128px;width:2px;height:230px;background:#363636"></div>
<svg style="position:absolute;left:2304.5px;top:1350.5px" width="40" height="40" viewBox="0 0 40 40"><path d="M3 0.5 L37 0.5 L20 37.5 Z" fill="#363636"/></svg>
<div style="position:absolute;left:1953.00px;top:1073.09px;font-family:'Liberation Sans', sans-serif;font-size:41px;line-height:1;font-weight:normal;font-style:normal;color:#363636;white-space:pre;letter-spacing:0px;-webkit-text-stroke:0.45px #363636;">180</div>
<div style="position:absolute;left:2111.50px;top:1337.39px;font-family:'Liberation Sans', sans-serif;font-size:41px;line-height:1;font-weight:normal;font-style:normal;color:#363636;white-space:pre;letter-spacing:-0.25px;-webkit-text-stroke:0.45px #363636;">109</div>
<div style="position:absolute;left:1940.50px;top:1802.79px;font-family:'Liberation Sans', sans-serif;font-size:41px;line-height:1;font-weight:normal;font-style:normal;color:#363636;white-space:pre;letter-spacing:0.167px;-webkit-text-stroke:0.45px #363636;">1992</div>
<div style="position:absolute;left:2099.75px;top:1802.79px;font-family:'Liberation Sans', sans-serif;font-size:41px;line-height:1;font-weight:normal;font-style:normal;color:#363636;white-space:pre;letter-spacing:1.083px;-webkit-text-stroke:0.45px #363636;">2022</div>
<div style="position:absolute;left:2124.25px;top:1251px;width:17.75px;height:3.2px;background:#363636"></div>
<div style="position:absolute;left:2144.13px;top:1210.19px;font-family:'Liberation Serif', serif;font-size:75px;line-height:1;font-weight:bold;font-style:normal;color:#363636;white-space:pre;transform:scaleX(1.1232);transform-origin:0 0;">39</div>
<div style="position:absolute;left:2224.30px;top:1210.19px;font-family:'Liberation Serif', serif;font-size:75px;line-height:1;font-weight:bold;font-style:normal;color:#363636;white-space:pre;transform:scaleX(0.775);transform-origin:0 0;">%</div>
<div style="position:absolute;left:2813px;top:1128px;width:80px;height:660px;background:#969696"></div>
<div style="position:absolute;left:2972px;top:1436px;width:80px;height:352px;background:#ff4536"></div>
<div style="position:absolute;left:2893px;top:1127.5px;width:320px;height:1.2px;background:#8c8c8c"></div>
<div style="position:absolute;left:3052px;top:1435.5px;width:161px;height:1.2px;background:#8c8c8c"></div>
<div style="position:absolute;left:3189.5px;top:1128px;width:2px;height:278px;background:#363636"></div>
<svg style="position:absolute;left:3170.5px;top:1398.5px" width="40" height="40" viewBox="0 0 40 40"><path d="M3 0.5 L37 0.5 L20 37.5 Z" fill="#363636"/></svg>
<div style="position:absolute;left:2819.50px;top:1073.09px;font-family:'Liberation Sans', sans-serif;font-size:41px;line-height:1;font-weight:normal;font-style:normal;color:#363636;white-space:pre;letter-spacing:-0.25px;-webkit-text-stroke:0.45px #363636;">107</div>
<div style="position:absolute;left:2988.50px;top:1381.09px;font-family:'Liberation Sans', sans-serif;font-size:41px;line-height:1;font-weight:normal;font-style:normal;color:#363636;white-space:pre;letter-spacing:2px;-webkit-text-stroke:0.45px #363636;">57</div>
<div style="position:absolute;left:2806.50px;top:1802.79px;font-family:'Liberation Sans', sans-serif;font-size:41px;line-height:1;font-weight:normal;font-style:normal;color:#363636;white-space:pre;letter-spacing:0.167px;-webkit-text-stroke:0.45px #363636;">1992</div>
<div style="position:absolute;left:2965.75px;top:1802.79px;font-family:'Liberation Sans', sans-serif;font-size:41px;line-height:1;font-weight:normal;font-style:normal;color:#363636;white-space:pre;letter-spacing:1.083px;-webkit-text-stroke:0.45px #363636;">2022</div>
<div style="position:absolute;left:2990.5px;top:1275px;width:17.5px;height:3.2px;background:#363636"></div>
<div style="position:absolute;left:3011.46px;top:1234.19px;font-family:'Liberation Serif', serif;font-size:75px;line-height:1;font-weight:bold;font-style:normal;color:#363636;white-space:pre;transform:scaleX(1.0417);transform-origin:0 0;">47</div>
<div style="position:absolute;left:3087.58px;top:1234.19px;font-family:'Liberation Serif', serif;font-size:75px;line-height:1;font-weight:bold;font-style:normal;color:#363636;white-space:pre;transform:scaleX(0.7708);transform-origin:0 0;">%</div>
<div style="position:absolute;left:215.50px;top:1964.18px;font-family:'Liberation Sans', sans-serif;font-size:22px;line-height:1;font-weight:normal;font-style:normal;color:#363636;white-space:pre;letter-spacing:0px;-webkit-text-stroke:0.45px #363636;">1</div>
<div style="position:absolute;left:214.70px;top:2024.78px;font-family:'Liberation Sans', sans-serif;font-size:22px;line-height:1;font-weight:normal;font-style:normal;color:#363636;white-space:pre;letter-spacing:0px;-webkit-text-stroke:0.45px #363636;">2</div>
<div style="position:absolute;left:214.70px;top:2084.98px;font-family:'Liberation Sans', sans-serif;font-size:22px;line-height:1;font-weight:normal;font-style:normal;color:#363636;white-space:pre;letter-spacing:0px;-webkit-text-stroke:0.45px #363636;">3</div>
<div style="position:absolute;left:231.10px;top:1960.09px;font-family:'Liberation Sans', sans-serif;font-size:43.6px;line-height:1;font-weight:normal;font-style:normal;color:#363636;white-space:pre;letter-spacing:1.95px;-webkit-text-stroke:0.45px #363636;">Countries</div>
<div style="position:absolute;left:443.70px;top:1960.09px;font-family:'Liberation Sans', sans-serif;font-size:43.6px;line-height:1;font-weight:normal;font-style:normal;color:#363636;white-space:pre;letter-spacing:2.029px;-webkit-text-stroke:0.45px #363636;">include:</div>
<div style="position:absolute;left:616.90px;top:1960.09px;font-family:'Liberation Sans', sans-serif;font-size:43.6px;line-height:1;font-weight:normal;font-style:normal;color:#363636;white-space:pre;letter-spacing:1.283px;-webkit-text-stroke:0.45px #363636;">France,</div>
<div style="position:absolute;left:781.60px;top:1960.09px;font-family:'Liberation Sans', sans-serif;font-size:43.6px;line-height:1;font-weight:normal;font-style:normal;color:#363636;white-space:pre;letter-spacing:1.629px;-webkit-text-stroke:0.45px #363636;">Germany,</div>
<div style="position:absolute;left:989.60px;top:1960.09px;font-family:'Liberation Sans', sans-serif;font-size:43.6px;line-height:1;font-weight:normal;font-style:normal;color:#363636;white-space:pre;letter-spacing:2.96px;-webkit-text-stroke:0.45px #363636;">Italy,</div>
<div style="position:absolute;left:1103.00px;top:1960.09px;font-family:'Liberation Sans', sans-serif;font-size:43.6px;line-height:1;font-weight:normal;font-style:normal;color:#363636;white-space:pre;letter-spacing:1.855px;-webkit-text-stroke:0.45px #363636;">Netherlands,</div>
<div style="position:absolute;left:1380.00px;top:1960.09px;font-family:'Liberation Sans', sans-serif;font-size:43.6px;line-height:1;font-weight:normal;font-style:normal;color:#363636;white-space:pre;letter-spacing:3px;-webkit-text-stroke:0.45px #363636;">Norway,</div>
<div style="position:absolute;left:1563.70px;top:1960.09px;font-family:'Liberation Sans', sans-serif;font-size:43.6px;line-height:1;font-weight:normal;font-style:normal;color:#363636;white-space:pre;letter-spacing:1.183px;-webkit-text-stroke:0.45px #363636;">Poland,</div>
<div style="position:absolute;left:1727.60px;top:1960.09px;font-family:'Liberation Sans', sans-serif;font-size:43.6px;line-height:1;font-weight:normal;font-style:normal;color:#363636;white-space:pre;letter-spacing:1.14px;-webkit-text-stroke:0.45px #363636;">Spain,</div>
<div style="position:absolute;left:1866.20px;top:1960.09px;font-family:'Liberation Sans', sans-serif;font-size:43.6px;line-height:1;font-weight:normal;font-style:normal;color:#363636;white-space:pre;letter-spacing:1.85px;-webkit-text-stroke:0.45px #363636;">Turkey,</div>
<div style="position:absolute;left:2026.30px;top:1960.09px;font-family:'Liberation Sans', sans-serif;font-size:43.6px;line-height:1;font-weight:normal;font-style:normal;color:#363636;white-space:pre;letter-spacing:1.5px;-webkit-text-stroke:0.45px #363636;">UK.</div>
<div style="position:absolute;left:240.60px;top:2020.09px;font-family:'Liberation Sans', sans-serif;font-size:43.6px;line-height:1;font-weight:normal;font-style:normal;color:#363636;white-space:pre;letter-spacing:2.1px;-webkit-text-stroke:0.45px #363636;">Fighter</div>
<div style="position:absolute;left:400.30px;top:2020.09px;font-family:'Liberation Sans', sans-serif;font-size:43.6px;line-height:1;font-weight:normal;font-style:normal;color:#363636;white-space:pre;letter-spacing:3px;-webkit-text-stroke:0.45px #363636;">jets</div>
<div style="position:absolute;left:487.20px;top:2020.09px;font-family:'Liberation Sans', sans-serif;font-size:43.6px;line-height:1;font-weight:normal;font-style:normal;color:#363636;white-space:pre;letter-spacing:3.1px;-webkit-text-stroke:0.45px #363636;">and</div>
<div style="position:absolute;left:576.00px;top:2020.09px;font-family:'Liberation Sans', sans-serif;font-size:43.6px;line-height:1;font-weight:normal;font-style:normal;color:#363636;white-space:pre;letter-spacing:2.72px;-webkit-text-stroke:0.45px #363636;">ground</div>
<div style="position:absolute;left:736.30px;top:2020.09px;font-family:'Liberation Sans', sans-serif;font-size:43.6px;line-height:1;font-weight:normal;font-style:normal;color:#363636;white-space:pre;letter-spacing:2.823px;-webkit-text-stroke:0.45px #363636;">attack/fighter</div>
<div style="position:absolute;left:1035.90px;top:2020.09px;font-family:'Liberation Sans', sans-serif;font-size:43.6px;line-height:1;font-weight:normal;font-style:normal;color:#363636;white-space:pre;letter-spacing:2.114px;-webkit-text-stroke:0.45px #363636;">bombers.</div>
<div style="position:absolute;left:239.60px;top:2080.09px;font-family:'Liberation Sans', sans-serif;font-size:43.6px;line-height:1;font-weight:normal;font-style:normal;color:#363636;white-space:pre;letter-spacing:1.8px;-webkit-text-stroke:0.45px #363636;">Includes</div>
<div style="position:absolute;left:425.20px;top:2080.09px;font-family:'Liberation Sans', sans-serif;font-size:43.6px;line-height:1;font-weight:normal;font-style:normal;color:#363636;white-space:pre;letter-spacing:2.25px;-webkit-text-stroke:0.45px #363636;">cruisers,</div>
<div style="position:absolute;left:615.00px;top:2080.09px;font-family:'Liberation Sans', sans-serif;font-size:43.6px;line-height:1;font-weight:normal;font-style:normal;color:#363636;white-space:pre;letter-spacing:2.18px;-webkit-text-stroke:0.45px #363636;">destroyers,</div>
<div style="position:absolute;left:861.00px;top:2080.09px;font-family:'Liberation Sans', sans-serif;font-size:43.6px;line-height:1;font-weight:normal;font-style:normal;color:#363636;white-space:pre;letter-spacing:3px;-webkit-text-stroke:0.45px #363636;">and</div>
<div style="position:absolute;left:950.00px;top:2080.09px;font-family:'Liberation Sans', sans-serif;font-size:43.6px;line-height:1;font-weight:normal;font-style:normal;color:#363636;white-space:pre;letter-spacing:2.55px;-webkit-text-stroke:0.45px #363636;">frigates.</div>
<div style="position:absolute;left:214.70px;top:2180.59px;font-family:'Liberation Sans', sans-serif;font-size:43.6px;line-height:1;font-weight:normal;font-style:normal;color:#363636;white-space:pre;letter-spacing:1.783px;-webkit-text-stroke:0.45px #363636;">Source:</div>
<div style="position:absolute;left:382.70px;top:2180.59px;font-family:'Liberation Sans', sans-serif;font-size:43.6px;line-height:1;font-weight:normal;font-style:normal;color:#363636;white-space:pre;letter-spacing:2.137px;-webkit-text-stroke:0.45px #363636;">Copyright</div>
<div style="position:absolute;left:600.40px;top:2180.59px;font-family:'Liberation Sans', sans-serif;font-size:43.6px;line-height:1;font-weight:normal;font-style:normal;color:#363636;white-space:pre;letter-spacing:0px;-webkit-text-stroke:0.45px #363636;">©</div>
<div style="position:absolute;left:645.70px;top:2180.59px;font-family:'Liberation Sans', sans-serif;font-size:43.6px;line-height:1;font-weight:normal;font-style:normal;color:#363636;white-space:pre;letter-spacing:1.2px;-webkit-text-stroke:0.45px #363636;">2022</div>
<div style="position:absolute;left:755.80px;top:2180.59px;font-family:'Liberation Sans', sans-serif;font-size:43.6px;line-height:1;font-weight:normal;font-style:normal;color:#363636;white-space:pre;letter-spacing:1.8px;-webkit-text-stroke:0.45px #363636;">The</div>
<div style="position:absolute;left:843.40px;top:2180.59px;font-family:'Liberation Sans', sans-serif;font-size:43.6px;line-height:1;font-weight:normal;font-style:normal;color:#363636;white-space:pre;letter-spacing:2.342px;-webkit-text-stroke:0.45px #363636;">International</div>
<div style="position:absolute;left:1120.20px;top:2180.59px;font-family:'Liberation Sans', sans-serif;font-size:43.6px;line-height:1;font-weight:normal;font-style:normal;color:#363636;white-space:pre;letter-spacing:2.975px;-webkit-text-stroke:0.45px #363636;">Institute</div>
<div style="position:absolute;left:1309.60px;top:2180.59px;font-family:'Liberation Sans', sans-serif;font-size:43.6px;line-height:1;font-weight:normal;font-style:normal;color:#363636;white-space:pre;letter-spacing:3.4px;-webkit-text-stroke:0.45px #363636;">for</div>
<div style="position:absolute;left:1377.30px;top:2180.59px;font-family:'Liberation Sans', sans-serif;font-size:43.6px;line-height:1;font-weight:normal;font-style:normal;color:#363636;white-space:pre;letter-spacing:2.088px;-webkit-text-stroke:0.45px #363636;">Strategic</div>
<div style="position:absolute;left:1578.00px;top:2180.59px;font-family:'Liberation Sans', sans-serif;font-size:43.6px;line-height:1;font-weight:normal;font-style:normal;color:#363636;white-space:pre;letter-spacing:1.571px;-webkit-text-stroke:0.45px #363636;">Studies,</div>
<div style="position:absolute;left:1756.20px;top:2180.59px;font-family:'Liberation Sans', sans-serif;font-size:43.6px;line-height:1;font-weight:normal;font-style:normal;color:#363636;white-space:pre;letter-spacing:2.25px;-webkit-text-stroke:0.45px #363636;">based</div>
<div style="position:absolute;left:1893.10px;top:2180.59px;font-family:'Liberation Sans', sans-serif;font-size:43.6px;line-height:1;font-weight:normal;font-style:normal;color:#363636;white-space:pre;letter-spacing:4.8px;-webkit-text-stroke:0.45px #363636;">on</div>
<div style="position:absolute;left:1955.80px;top:2180.59px;font-family:'Liberation Sans', sans-serif;font-size:43.6px;line-height:1;font-weight:normal;font-style:normal;color:#363636;white-space:pre;letter-spacing:2.533px;-webkit-text-stroke:0.45px #363636;">data</div>
<div style="position:absolute;left:2061.40px;top:2180.59px;font-family:'Liberation Sans', sans-serif;font-size:43.6px;line-height:1;font-weight:normal;font-style:normal;color:#363636;white-space:pre;letter-spacing:2.55px;-webkit-text-stroke:0.45px #363636;">taken</div>
<div style="position:absolute;left:2188.50px;top:2180.59px;font-family:'Liberation Sans', sans-serif;font-size:43.6px;line-height:1;font-weight:normal;font-style:normal;color:#363636;white-space:pre;letter-spacing:4.3px;-webkit-text-stroke:0.45px #363636;">from</div>
<div style="position:absolute;left:2297.50px;top:2180.59px;font-family:'Liberation Sans', sans-serif;font-size:43.6px;line-height:1;font-weight:normal;font-style:italic;color:#363636;white-space:pre;letter-spacing:1.35px;-webkit-text-stroke:0.45px #363636;">The</div>
<div style="position:absolute;left:2388.40px;top:2180.59px;font-family:'Liberation Sans', sans-serif;font-size:43.6px;line-height:1;font-weight:normal;font-style:italic;color:#363636;white-space:pre;letter-spacing:1.971px;-webkit-text-stroke:0.45px #363636;">Military</div>
<div style="position:absolute;left:2556.80px;top:2180.59px;font-family:'Liberation Sans', sans-serif;font-size:43.6px;line-height:1;font-weight:normal;font-style:italic;color:#363636;white-space:pre;letter-spacing:1.467px;-webkit-text-stroke:0.45px #363636;">Balance</div>
<div style="position:absolute;left:2733.10px;top:2180.59px;font-family:'Liberation Sans', sans-serif;font-size:43.6px;line-height:1;font-weight:normal;font-style:italic;color:#363636;white-space:pre;letter-spacing:0.633px;-webkit-text-stroke:0.45px #363636;">2022</div>
<div style="position:absolute;left:213.70px;top:2230.89px;font-family:'Liberation Sans', sans-serif;font-size:43.6px;line-height:1;font-weight:normal;font-style:normal;color:#363636;white-space:pre;letter-spacing:2.26px;-webkit-text-stroke:0.45px #363636;">(reproduced</div>
<div style="position:absolute;left:482.90px;top:2230.89px;font-family:'Liberation Sans', sans-serif;font-size:43.6px;line-height:1;font-weight:normal;font-style:normal;color:#363636;white-space:pre;letter-spacing:4.633px;-webkit-text-stroke:0.45px #363636;">with</div>
<div style="position:absolute;left:584.50px;top:2230.89px;font-family:'Liberation Sans', sans-serif;font-size:43.6px;line-height:1;font-weight:normal;font-style:normal;color:#363636;white-space:pre;letter-spacing:2.111px;-webkit-text-stroke:0.45px #363636;">permission</div>
<div style="position:absolute;left:824.20px;top:2230.89px;font-family:'Liberation Sans', sans-serif;font-size:43.6px;line-height:1;font-weight:normal;font-style:normal;color:#363636;white-space:pre;letter-spacing:2.3px;-webkit-text-stroke:0.45px #363636;">by</div>
<div style="position:absolute;left:885.20px;top:2230.89px;font-family:'Liberation Sans', sans-serif;font-size:43.6px;line-height:1;font-weight:normal;font-style:normal;color:#363636;white-space:pre;letter-spacing:1.671px;-webkit-text-stroke:0.45px #363636;">McKinsey</div>
<div style="position:absolute;left:1099.50px;top:2230.89px;font-family:'Liberation Sans', sans-serif;font-size:43.6px;line-height:1;font-weight:normal;font-style:normal;color:#363636;white-space:pre;letter-spacing:0px;-webkit-text-stroke:0.45px #363636;">&amp;</div>
<div style="position:absolute;left:1137.90px;top:2230.89px;font-family:'Liberation Sans', sans-serif;font-size:43.6px;line-height:1;font-weight:normal;font-style:normal;color:#363636;white-space:pre;letter-spacing:1.371px;-webkit-text-stroke:0.45px #363636;">Company)</div>
<div style="position:absolute;left:2126.20px;top:2353.63px;font-family:'Liberation Sans', sans-serif;font-size:43.2px;line-height:1;font-weight:normal;font-style:italic;color:#000;white-space:pre;letter-spacing:1.586px;-webkit-text-stroke:0.8px #000;">Designed</div>
<div style="position:absolute;left:2331.80px;top:2353.63px;font-family:'Liberation Sans', sans-serif;font-size:43.2px;line-height:1;font-weight:normal;font-style:italic;color:#000;white-space:pre;letter-spacing:-1.1px;-webkit-text-stroke:0.8px #000;">by</div>
<div style="position:absolute;left:2390.40px;top:2353.63px;font-family:'Liberation Sans', sans-serif;font-size:43.2px;line-height:1;font-weight:normal;font-style:italic;color:#000;white-space:pre;letter-spacing:1.25px;-webkit-text-stroke:0.8px #000;">The</div>
<div style="position:absolute;left:2479.50px;top:2353.63px;font-family:'Liberation Sans', sans-serif;font-size:43.2px;line-height:1;font-weight:normal;font-style:italic;color:#000;white-space:pre;letter-spacing:1.733px;-webkit-text-stroke:0.8px #000;">Insider</div>
<div style="position:absolute;left:2633.80px;top:2353.63px;font-family:'Liberation Sans', sans-serif;font-size:43.2px;line-height:1;font-weight:normal;font-style:italic;color:#000;white-space:pre;letter-spacing:1.175px;-webkit-text-stroke:0.8px #000;">based</div>
<div style="position:absolute;left:2770.70px;top:2353.63px;font-family:'Liberation Sans', sans-serif;font-size:43.2px;line-height:1;font-weight:normal;font-style:italic;color:#000;white-space:pre;letter-spacing:3.4px;-webkit-text-stroke:0.8px #000;">on</div>
<div style="position:absolute;left:2834.50px;top:2353.63px;font-family:'Liberation Sans', sans-serif;font-size:43.2px;line-height:1;font-weight:normal;font-style:italic;color:#000;white-space:pre;letter-spacing:1.643px;-webkit-text-stroke:0.8px #000;">McKinsey</div>
<div style="position:absolute;left:3047.30px;top:2353.63px;font-family:'Liberation Sans', sans-serif;font-size:43.2px;line-height:1;font-weight:normal;font-style:italic;color:#000;white-space:pre;letter-spacing:0px;-webkit-text-stroke:0.8px #000;">&amp;</div>
<div style="position:absolute;left:3085.30px;top:2353.63px;font-family:'Liberation Sans', sans-serif;font-size:43.2px;line-height:1;font-weight:normal;font-style:italic;color:#000;white-space:pre;letter-spacing:1.1px;-webkit-text-stroke:0.8px #000;">Company</div>
<div style="position:absolute;left:3292.60px;top:2353.63px;font-family:'Liberation Sans', sans-serif;font-size:43.2px;line-height:1;font-weight:normal;font-style:italic;color:#000;white-space:pre;letter-spacing:2.8px;-webkit-text-stroke:0.8px #000;">data</div>
</div></body></html>
